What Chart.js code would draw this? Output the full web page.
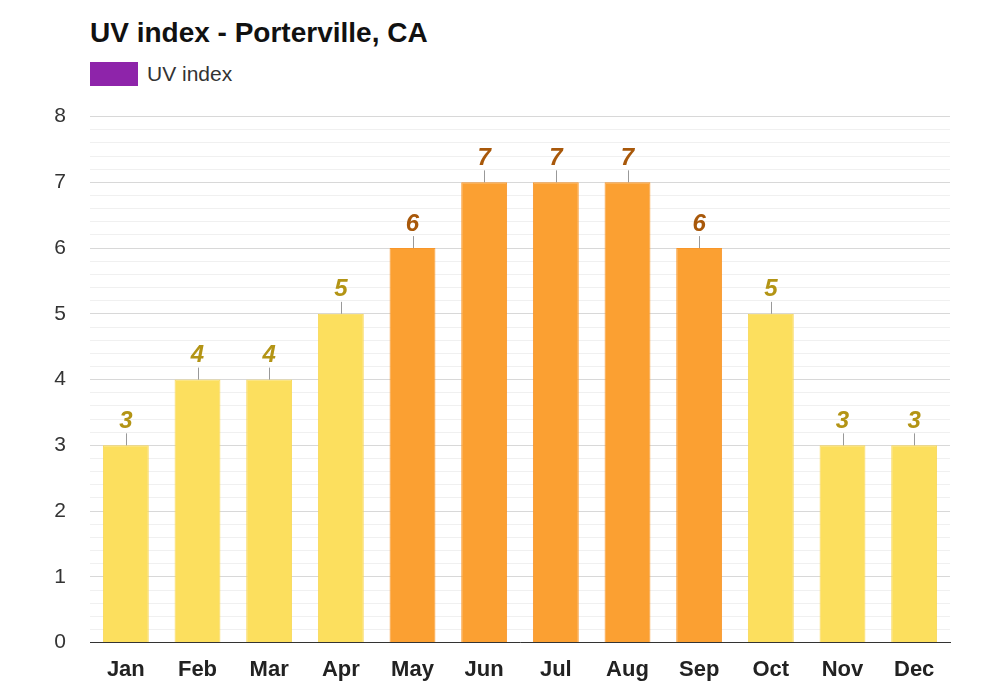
<!DOCTYPE html>
<html>
<head>
<meta charset="utf-8">
<script src="https://cdn.jsdelivr.net/npm/chart.js@4/dist/chart.umd.min.js"></script>
<style>
  body { margin: 0; background: #fff; font-family: Arial, "Liberation Sans", sans-serif; }
  #wrap { position: relative; width: 1000px; height: 700px; }
  h1 { position: absolute; left: 90px; top: 17px; margin: 0; font-size: 28px; font-weight: bold; color: #111; }
  .legend { position: absolute; left: 90px; top: 62px; display: flex; align-items: center; font-size: 21px; color: #333; }
  .legend span.box { width: 48px; height: 24px; background: #8e24aa; margin-right: 9px; display: inline-block; }
  #canvas-box { position: absolute; left: 0; top: 80px; width: 1000px; height: 609px; }
</style>
</head>
<body>
<div id="wrap">
  <h1>UV index - Porterville, CA</h1>
  <div class="legend"><span class="box"></span>UV index</div>
  <div id="canvas-box"><canvas id="chart"></canvas></div>
</div>
<script>
const meses = ['Jan', 'Feb', 'Mar', 'Apr', 'May', 'Jun', 'Jul', 'Aug', 'Sep', 'Oct', 'Nov', 'Dec'];
const uvIndex = [3, 4, 4, 5, 6, 7, 7, 7, 6, 5, 3, 3];

const esAlto = (v) => v >= 6;
const colorBarra = uvIndex.map((v) => (esAlto(v) ? '#fba032' : '#fcdf5e'));
const colorBorde = uvIndex.map((v) => (esAlto(v) ? '#f8962a' : '#f8d757'));
const colorTexto = uvIndex.map((v) => (esAlto(v) ? '#a8580a' : '#b39415'));

// etiquetas sobre las barras con su rayita
const etiquetasPlugin = {
  id: 'etiquetas',
  afterDatasetsDraw(chart) {
    const { ctx } = chart;
    const meta = chart.getDatasetMeta(0);
    ctx.save();
    meta.data.forEach((bar, i) => {
      ctx.strokeStyle = '#999';
      ctx.lineWidth = 1;
      ctx.beginPath();
      ctx.moveTo(Math.round(bar.x) + 0.5, bar.y);
      ctx.lineTo(Math.round(bar.x) + 0.5, bar.y - 12);
      ctx.stroke();
      ctx.fillStyle = colorTexto[i];
      ctx.font = 'italic bold 24px Arial, "Liberation Sans", sans-serif';
      ctx.textAlign = 'center';
      ctx.textBaseline = 'bottom';
      ctx.fillText(String(uvIndex[i]), bar.x, bar.y - 12);
    });
    ctx.restore();
  }
};

const esEntero = (v) => Math.abs(v - Math.round(v)) < 1e-6;

new Chart(document.getElementById('chart'), {
  type: 'bar',
  data: {
    labels: meses,
    datasets: [{
      label: 'UV index',
      data: uvIndex,
      backgroundColor: colorBarra,
      borderColor: colorBorde,
      borderWidth: 1,
      barPercentage: 0.64,
      categoryPercentage: 1
    }]
  },
  options: {
    responsive: true,
    maintainAspectRatio: false,
    animation: false,
    layout: { padding: { left: 0, right: 50, top: 0, bottom: 0 } },
    plugins: { legend: { display: false }, tooltip: { enabled: false } },
    scales: {
      x: {
        grid: { display: false },
        border: { color: '#333' },
        ticks: { color: '#222', font: { size: 22, weight: 'bold' }, padding: 6 }
      },
      y: {
        min: 0,
        max: 8,
        afterFit(scale) { scale.width = 90; },
        ticks: {
          stepSize: 0.2,
          autoSkip: false,
          color: '#333',
          font: { size: 21 },
          padding: 24,
          callback: (v) => (esEntero(v) ? Math.round(v) : '')
        },
        border: { display: false },
        grid: {
          drawTicks: false,
          color: (c) => (esEntero(c.tick.value) ? '#d8d8d8' : '#f0f0f0'),
          lineWidth: 1
        }
      }
    }
  },
  plugins: [etiquetasPlugin]
});
</script>
</body>
</html>
